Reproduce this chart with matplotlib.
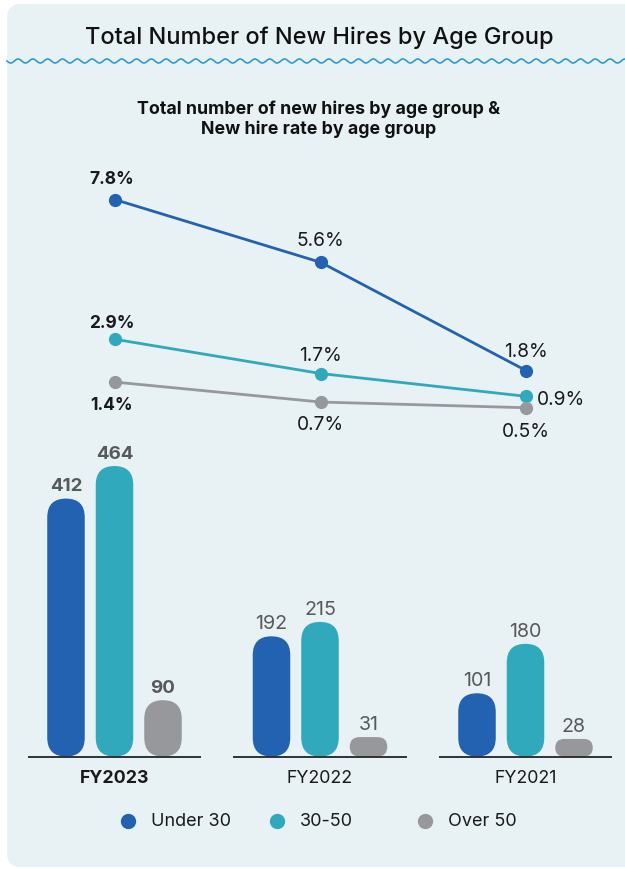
import numpy as np
import matplotlib
matplotlib.use("Agg")
import matplotlib.pyplot as plt
from matplotlib.patches import FancyBboxPatch
from matplotlib.lines import Line2D

plt.rcParams['font.family'] = ['Inter', 'DejaVu Sans']

# ---------------- data ----------------
years = ["FY2023", "FY2022", "FY2021"]
groups = ["Under 30", "30-50", "Over 50"]
hires_under30 = [412, 192, 101]
hires_30_50 = [464, 215, 180]
hires_over50 = [90, 31, 28]
rate_under30 = [7.8, 5.6, 1.8]
rate_30_50 = [2.9, 1.7, 0.9]
rate_over50 = [1.4, 0.7, 0.5]

colors = ["#2262B0", "#30A9BD", "#97989C"]
W, H = 625, 870

fig = plt.figure(figsize=(W / 100, H / 100), dpi=100)
fig.patch.set_facecolor("white")

# ---------------- background panel & decorations ----------------
bg = fig.add_axes([0, 0, 1, 1], zorder=0)
bg.set_xlim(0, W)
bg.set_ylim(H, 0)
bg.axis("off")
bg.add_patch(FancyBboxPatch((7, 5), 660, 863, boxstyle="round,pad=0,rounding_size=14",
                            facecolor="#E8F1F4", edgecolor="none"))
xw = np.linspace(7, W, 1500)
bg.plot(xw, 62 + 2.0 * np.sin(2 * np.pi * (xw - 7) / 14.8), color="#2E9BD6", lw=1.2)

fig.text(319 / W, 1 - 38 / H, "Total Number of New Hires by Age Group",
         ha="center", va="center", fontsize=17, fontweight="medium", color="#111111")
fig.text(319 / W, 1 - 119 / H, "Total number of new hires by age group &\nNew hire rate by age group",
         ha="center", va="center", fontsize=12.8, fontweight="bold", color="#111111",
         linespacing=1.2)

# ---------------- shared x mapping ----------------
x0_px, dx_px = 114.5, 205.5
xlim = (-x0_px / dx_px, (W - x0_px) / dx_px)
xi = np.arange(len(years))

# ---------------- line chart ----------------
base_line_px, ppu_line = 423.0, 28.5
ymax_line = 9.0
axl = fig.add_axes([0, 1 - base_line_px / H, 1, ymax_line * ppu_line / H], zorder=2)
axl.set_xlim(*xlim)
axl.set_ylim(0, ymax_line)
axl.axis("off")
rates = [rate_under30, rate_30_50, rate_over50]
for r, c in zip(rates, colors):
    axl.plot(xi + 0.004, r, color=c, lw=2.0, marker="o", ms=8.5, mec=c, mfc=c, zorder=3)

# label placements (offsets in points, horizontal alignment)
offs = [
    [(-2, 15, "center"), (0, 16, "center"), (0, 14, "center")],
    [(-2, 12, "center"), (0, 13, "center"), (8, -2, "left")],
    [(-2, -16, "center"), (0, -16, "center"), (0, -17, "center")],
]
for k, (r, c) in enumerate(zip(rates, colors)):
    for i, v in enumerate(r):
        ox, oy, ha = offs[k][i]
        axl.annotate(f"{v}%", (xi[i], v), xytext=(ox, oy), textcoords="offset points",
                     ha=ha, va="center", fontsize=12.5 if i == 0 else 13.8,
                     fontweight="bold" if i == 0 else "normal", color="#1A1A1A")

# ---------------- bar chart ----------------
base_bar_px, ppu_bar = 757.5, 0.626
ymax_bar = 500
axb = fig.add_axes([0, 1 - base_bar_px / H, 1, ymax_bar * ppu_bar / H], zorder=2)
axb.set_xlim(*xlim)
axb.set_ylim(0, ymax_bar)
axb.axis("off")

fig.canvas.draw()
p0 = axb.transData.transform((0, 0))
p1 = axb.transData.transform((1, 1))
ppx = p1[0] - p0[0]
ppy = p1[1] - p0[1]
aspect = ppx / ppy

bar_w = 37.5 / dx_px
bar_off = 48.5 / dx_px
hires = [hires_under30, hires_30_50, hires_over50]
for k, (vals, c) in enumerate(zip(hires, colors)):
    for i, v in enumerate(vals):
        xc = xi[i] + (k - 1) * bar_off
        r = min(bar_w / 2, v / aspect / 2)
        axb.add_patch(FancyBboxPatch((xc - bar_w / 2, 0), bar_w, v,
                                     boxstyle=f"round,pad=0,rounding_size={r}",
                                     mutation_aspect=aspect, facecolor=c,
                                     edgecolor="none", zorder=3))
        axb.annotate(str(v), (xc, v), xytext=(0, 3), textcoords="offset points",
                     ha="center", va="bottom", fontsize=13.5 if i == 0 else 14.2,
                     fontweight="bold" if i == 0 else "normal", color="#58595B")

for i, yr in enumerate(years):
    axb.plot([xi[i] - 0.421, xi[i] + 0.421], [0, 0], color="#222222", lw=1.3,
             solid_capstyle="butt", zorder=4, clip_on=False)
    axb.annotate(yr, (xi[i], 0), xytext=(0, -9), textcoords="offset points",
                 ha="center", va="top", fontsize=12.8,
                 fontweight="bold" if i == 0 else "normal", color="#1A1A1A",
                 annotation_clip=False)

# ---------------- legend ----------------
leg_y = 1 - 822 / H
leg_x = [128, 277, 425]
for lx, g, c in zip(leg_x, groups, colors):
    fig.add_artist(Line2D([lx / W], [leg_y], marker="o", ms=10, color=c, mec=c,
                          transform=fig.transFigure))
    fig.text((lx + 23) / W, leg_y, g, ha="left", va="center", fontsize=13, color="#1A1A1A")

fig.savefig("out.png", dpi=100, facecolor="white")
